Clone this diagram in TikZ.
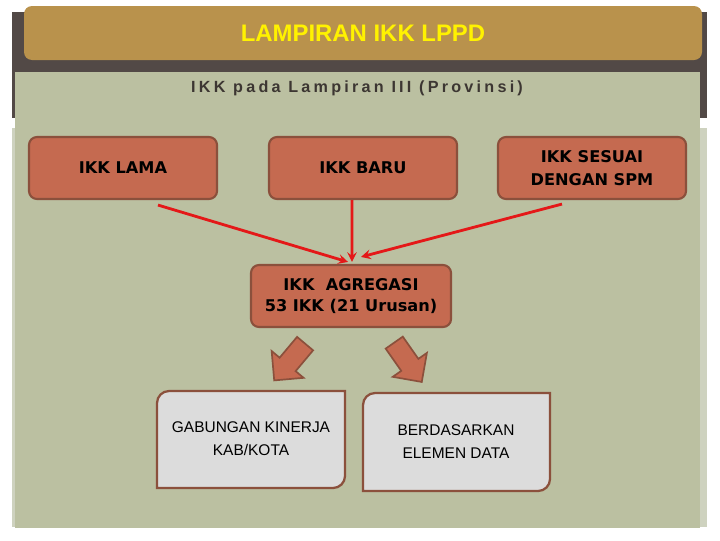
\documentclass[tikz,border=0pt]{standalone}
\usepackage{fontspec}
\setmainfont{Liberation Sans}
\newfontfamily\boxfont{DejaVu Sans}
\usetikzlibrary{shapes.arrows}

\definecolor{titlegold}{RGB}{185,146,76}
\definecolor{darkband}{RGB}{82,73,70}
\definecolor{sage}{RGB}{187,192,161}
\definecolor{lightsage}{RGB}{206,210,191}
\definecolor{ikkfill}{RGB}{197,106,80}
\definecolor{ikkline}{RGB}{139,80,60}
\definecolor{subgray}{RGB}{60,54,50}
\definecolor{boxgray}{RGB}{220,220,220}
\definecolor{linkred}{RGB}{228,24,24}

\begin{document}
\begin{tikzpicture}[x = 0.025cm, y = -0.025cm,
    ikkbox/.style = {draw = ikkline, line width = 1.5pt, fill = ikkfill, rounded corners = 0.2cm,
      minimum width = 4.7cm, minimum height = 1.55cm, align = center,
      font = \boxfont\bfseries\fontsize{11.5}{16}\selectfont},
    blkarrow/.style = {shape = single arrow, draw = ikkline, fill = ikkfill, line width = 1.2pt,
      minimum height = 1.2cm, inner sep = 0.24cm, single arrow head extend = 0.26cm},
    graybox/.style = {draw = ikkline, line width = 1.6pt, fill = boxgray},
    datatext/.style = {align = center, font = \fontsize{11}{16.3}\selectfont},
    link/.style = {->, >=stealth, draw = linkred, line width = 2pt}]
    \useasboundingbox (0,0) rectangle (720,540);
    \fill [white] (0,0) rectangle (720,540);
    % frame
    \fill [darkband] (12,12) rectangle (707,118);
    \fill [lightsage] (12,128) rectangle (707,527);
    \fill [sage] (15,72) rectangle (700,528);
    \fill [titlegold, rounded corners = 0.2cm] (24,6) rectangle (702,60);
    \node (title) at (363,33) [text = yellow, font = \bfseries\fontsize{17}{20}\selectfont] {LAMPIRAN IKK LPPD};
    \node (sub) at (357,88) [text = subgray, font = \bfseries\fontsize{11.5}{14}\selectfont\addfontfeature{LetterSpace = 20}] {IKK pada Lampiran III (Provinsi)};
    % ikk boxes
    \node (lama) at (123,168) [ikkbox] {IKK LAMA};
    \node (baru) at (363,168) [ikkbox] {IKK BARU};
    \node (sesuai) at (592,168) [ikkbox] {IKK SESUAI\\DENGAN SPM};
    \node (agr) at (351,296) [ikkbox, minimum width = 5cm, font = \boxfont\bfseries\fontsize{11.5}{15}\selectfont] {IKK\ \ AGREGASI\\53 IKK (21 Urusan)};
    \draw [link] ([xshift = 0.875cm, yshift = -0.125cm]lama.south) -- ([xshift = -0.075cm, yshift = 0.05cm]agr.north);
    \draw [link] ([xshift = -0.275cm]baru.south) -- ([xshift = 0.025cm, yshift = 0.05cm]agr.north);
    \draw [link] ([xshift = -0.75cm, yshift = -0.1cm]sesuai.south) -- ([xshift = 0.25cm, yshift = 0.175cm]agr.north);
    % block arrows
    \node (blkL) at (293,358) [blkarrow, rotate = 230] {};
    \node (blkR) at (405,358) [blkarrow, rotate = 305] {};
    % data boxes
    \draw [graybox] (250,391) [rounded corners = 0.3cm] -- (157,391) -- (157,440) [sharp corners] -- (157,488) -- (300,488) [rounded corners = 0.3cm] -- (345,488) -- (345,440) [sharp corners] -- (345,391) -- cycle;
    \node (gab) at (251,439) [datatext] {GABUNGAN KINERJA\\KAB/KOTA};
    \draw [graybox] (456,393) [rounded corners = 0.3cm] -- (363,393) -- (363,442) [sharp corners] -- (363,491) -- (500,491) [rounded corners = 0.3cm] -- (550,491) -- (550,442) [sharp corners] -- (550,393) -- cycle;
    \node (ber) at (456,442) [datatext] {BERDASARKAN\\ELEMEN DATA};
\end{tikzpicture}
\end{document}
